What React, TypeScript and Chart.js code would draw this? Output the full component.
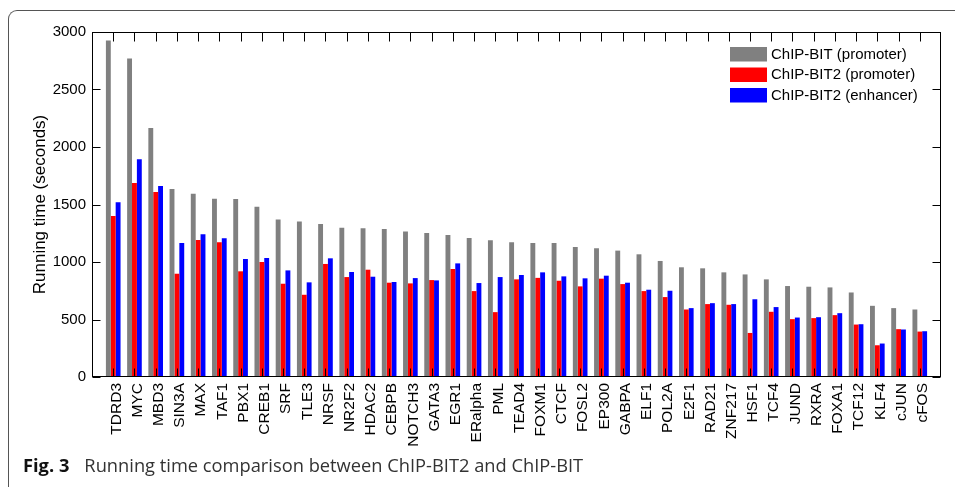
import React, { useEffect, useRef } from 'react';
import { Chart, registerables } from 'chart.js';

Chart.register(...registerables);

const categories = [
  'TDRD3', 'MYC', 'MBD3', 'SIN3A', 'MAX', 'TAF1', 'PBX1', 'CREB1', 'SRF', 'TLE3',
  'NRSF', 'NR2F2', 'HDAC2', 'CEBPB', 'NOTCH3', 'GATA3', 'EGR1', 'ERalpha', 'PML', 'TEAD4',
  'FOXM1', 'CTCF', 'FOSL2', 'EP300', 'GABPA', 'ELF1', 'POL2A', 'E2F1', 'RAD21', 'ZNF217',
  'HSF1', 'TCF4', 'JUND', 'RXRA', 'FOXA1', 'TCF12', 'KLF4', 'cJUN', 'cFOS',
];

const chipBitPromoter = [
  2927, 2770, 2166, 1634, 1593, 1549, 1547, 1480, 1369, 1352,
  1330, 1297, 1294, 1288, 1265, 1253, 1235, 1209, 1189, 1172,
  1165, 1166, 1131, 1119, 1099, 1067, 1009, 954, 945, 910,
  892, 849, 791, 785, 779, 735, 619, 599, 587,
];

const chipBit2Promoter = [
  1401, 1686, 1608, 898, 1192, 1172, 919, 1000, 811, 715,
  983, 869, 933, 820, 814, 843, 939, 747, 564, 849,
  862, 837, 788, 855, 808, 747, 695, 587, 634, 628,
  383, 567, 503, 512, 538, 456, 276, 416, 395,
];

const chipBit2Enhancer = [
  1520, 1893, 1660, 1166, 1241, 1206, 1026, 1035, 927, 823,
  1032, 913, 872, 826, 860, 840, 988, 817, 869, 887,
  910, 875, 858, 881, 820, 759, 750, 599, 642, 634,
  676, 608, 517, 520, 555, 459, 291, 413, 398,
];

const seriesLabels = ['ChIP-BIT (promoter)', 'ChIP-BIT2 (promoter)', 'ChIP-BIT2 (enhancer)'];
const seriesColors = ['#808080', '#ff0000', '#0000ff'];
const yMin = 0;
const yMax = 3000;
const yStep = 500;
const yTitle = 'Running time (seconds)';
const captionBold = 'Fig. 3';
const captionText = 'Running time comparison between ChIP-BIT2 and ChIP-BIT';

const FONT = '"Liberation Sans", Arial, Helvetica, sans-serif';

const frameTicksPlugin = {
  id: 'frameTicks',
  afterDatasetsDraw(chart: any) {
    const { ctx, chartArea: a, scales } = chart;
    const L = Math.round(a.left) + 0.5;
    const R = Math.round(a.right) - 0.5;
    const T = Math.round(a.top) + 0.5;
    const B = Math.round(a.bottom) - 0.5;
    ctx.save();
    ctx.strokeStyle = '#000';
    ctx.lineWidth = 1;
    ctx.beginPath();
    scales.x.ticks.forEach((t: any) => {
      const px = Math.round(scales.x.getPixelForValue(t.value)) + 0.5;
      ctx.moveTo(px, B);
      ctx.lineTo(px, B - 8);
      ctx.moveTo(px, T);
      ctx.lineTo(px, T + 9);
    });
    scales.y.ticks.forEach((t: any) => {
      const py = Math.round(scales.y.getPixelForValue(t.value)) + 0.5;
      ctx.moveTo(L, py);
      ctx.lineTo(L + 8, py);
      ctx.moveTo(R, py);
      ctx.lineTo(R - 8, py);
    });
    ctx.stroke();
    ctx.strokeRect(L, T, R - L, B - T);
    ctx.restore();
  },
  afterDraw(chart: any) {
    const { ctx, chartArea: a } = chart;
    ctx.save();
    const sx = a.right - 211;
    const rowTop = [a.top + 15, a.top + 35.5, a.top + 56];
    ctx.font = `15px ${FONT}`;
    ctx.textBaseline = 'middle';
    ctx.textAlign = 'left';
    chart.data.datasets.forEach((ds: any, i: number) => {
      ctx.fillStyle = ds.backgroundColor;
      ctx.fillRect(sx, rowTop[i], 37, 14.5);
      ctx.fillStyle = '#000';
      ctx.fillText(ds.label, sx + 41, rowTop[i] + 7.8);
    });
    ctx.restore();
  },
};

function BarChart() {
  const ref = useRef<HTMLCanvasElement | null>(null);
  useEffect(() => {
    if (!ref.current) return;
    const series = [chipBitPromoter, chipBit2Promoter, chipBit2Enhancer];
    const chart = new Chart(ref.current, {
      type: 'bar',
      data: {
        datasets: series.map((vals, s) => ({
          label: seriesLabels[s],
          data: vals.map((v, i) => ({ x: i + 1, y: v })),
          backgroundColor: seriesColors[s],
          borderWidth: 0,
          categoryPercentage: 0.69,
          barPercentage: 1.0,
        })),
      },
      options: {
        responsive: false,
        animation: false,
        devicePixelRatio: 1,
        layout: { padding: { top: 32, right: 14, left: 0, bottom: 0 } },
        plugins: {
          legend: { display: false },
          tooltip: { enabled: false },
        },
        scales: {
          x: {
            type: 'linear',
            min: 0,
            max: categories.length + 1,
            offset: false,
            grid: { display: false, drawTicks: false },
            border: { display: false },
            afterBuildTicks: (scale: any) => {
              scale.ticks = categories.map((_, i) => ({ value: i + 1 }));
            },
            afterFit: (scale: any) => {
              scale.height = 110;
            },
            ticks: {
              autoSkip: false,
              maxRotation: 90,
              minRotation: 90,
              padding: 6,
              labelOffset: 3,
              color: '#000',
              font: { family: FONT, size: 15.5 },
              callback: (v: any) => categories[Number(v) - 1] ?? '',
            },
          },
          y: {
            min: yMin,
            max: yMax,
            grid: { display: false, drawTicks: false },
            border: { display: false },
            afterFit: (scale: any) => {
              scale.width = 92;
            },
            ticks: {
              stepSize: yStep,
              padding: 6,
              color: '#000',
              font: { family: FONT, size: 15 },
              callback: (v: any) => String(v),
            },
            title: {
              display: true,
              text: yTitle,
              color: '#000',
              font: { family: FONT, size: 17 },
              padding: { top: 30, bottom: 0 },
            },
          },
        },
      } as any,
      plugins: [frameTicksPlugin],
    });
    return () => chart.destroy();
  }, []);
  return <canvas ref={ref} width={955} height={487} style={{ width: 955, height: 487, display: 'block' }} />;
}

export default function App() {
  return (
    <div style={{ position: 'fixed', left: 0, top: 0, width: 955, height: 487, background: '#fff', overflow: 'hidden' }}>
      <div
        style={{
          position: 'absolute',
          left: 8,
          top: 10,
          width: 960,
          height: 500,
          borderTop: '1px solid #555',
          borderLeft: '1px solid #555',
          borderTopLeftRadius: 9,
          boxSizing: 'border-box',
        }}
      />
      <div style={{ position: 'absolute', left: 0, top: 0 }}>
        <BarChart />
      </div>
      <div
        style={{
          position: 'absolute',
          left: 23,
          top: 453,
          fontFamily: '"Open Sans", "Noto Sans", sans-serif',
          fontSize: 18.3,
          color: '#333',
          whiteSpace: 'pre',
          lineHeight: '24px',
        }}
      >
        <span style={{ fontWeight: 700, color: '#111' }}>{captionBold}</span>
        <span style={{ marginLeft: 15 }}>{captionText}</span>
      </div>
    </div>
  );
}
